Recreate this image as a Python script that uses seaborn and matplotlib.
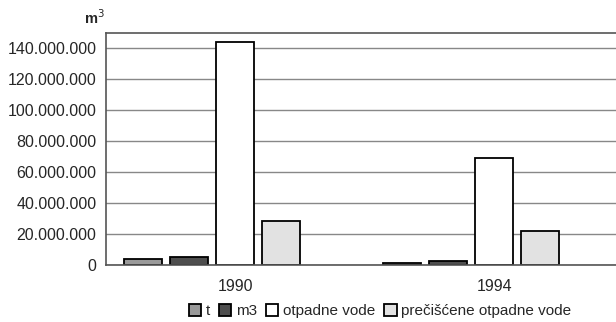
import pandas as pd
import numpy as np
import matplotlib
matplotlib.use("Agg")
import matplotlib.pyplot as plt
import seaborn as sns
from matplotlib.ticker import FuncFormatter, FixedLocator

# Values
years = ["1990", "1994"]
series = ["t", "m3", "otpadne vode", "prečišćene otpadne vode"]
t_vals = [3.7e6, 1.1e6]
m3_vals = [5.2e6, 2.8e6]
otpadne_vals = [144.5e6, 69.0e6]
preciscene_vals = [28.6e6, 22.1e6]
yticks = [0, 20e6, 40e6, 60e6, 80e6, 100e6, 120e6, 140e6]

colors = ["#9a9a9a", "#4e4e4e", "#ffffff", "#e2e2e2"]

rows = []
for name, vals in zip(series, [t_vals, m3_vals, otpadne_vals, preciscene_vals]):
    for y, v in zip(years, vals):
        rows.append({"godina": y, "serija": name, "vrijednost": v})
df = pd.DataFrame(rows)

sns.set_style("white")
plt.rcParams['font.family'] = ['Liberation Sans', 'DejaVu Sans']

fig = plt.figure(figsize=(6.16, 3.22), dpi=100)
ax = fig.add_axes([106 / 616, 1 - 265 / 322, 518 / 616, 232 / 322])

sns.barplot(data=df, x="godina", y="vrijednost", hue="serija", hue_order=series,
            palette=colors, width=0.71, gap=0.17, edgecolor="black",
            linewidth=1.3, ax=ax, legend=True)

# the bar groups sit a little left of the category centres in the original
shift = 0.09
ax.set_xlim(-0.5 + shift, 1.5 + shift)
ax.set_xticks([0 + shift, 1 + shift])
ax.set_xticklabels(years)
ax.set_xticks([0.5 + shift], minor=True)

ax.set_ylim(0, 150e6)
ax.yaxis.set_major_locator(FixedLocator(yticks))
ax.yaxis.set_major_formatter(FuncFormatter(lambda v, p: f"{int(v):,}".replace(",", ".")))
ax.grid(axis="y", color="#888888", linewidth=1)
ax.set_axisbelow(True)
ax.set_xlabel("")
ax.set_ylabel("")

for s in ["left", "top", "bottom"]:
    ax.spines[s].set_visible(True)
    ax.spines[s].set_color("#555555")
    ax.spines[s].set_linewidth(1.2)
ax.spines["right"].set_visible(False)

ax.tick_params(axis="y", which="major", direction="out", length=4, width=1,
               color="#555555", labelsize=11.5, pad=3)
ax.tick_params(axis="x", which="major", length=0, labelsize=11.5, pad=10)
ax.tick_params(axis="x", which="minor", direction="out", length=4, width=1, color="#555555")

fig.text(94 / 616, 1 - 18 / 322, "m$^3$", fontsize=10.5, fontweight="bold",
         ha="center", va="center")

handles, labels = ax.get_legend_handles_labels()
ax.legend(handles, labels, loc="center", bbox_to_anchor=(380 / 616, 1 - 311 / 322),
          bbox_transform=fig.transFigure, ncol=4, frameon=False, fontsize=11,
          handlelength=0.8, handleheight=0.8, handletextpad=0.3, columnspacing=0.6,
          borderaxespad=0)

fig.savefig("out.png", dpi=100)
